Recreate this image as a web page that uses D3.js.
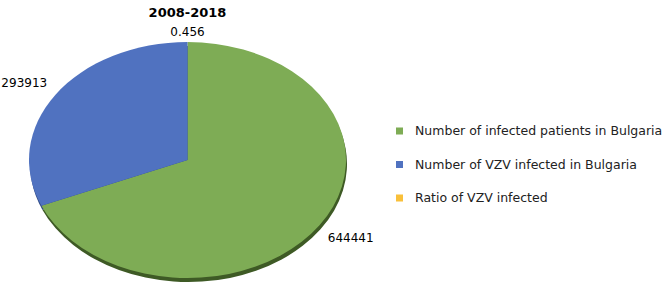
<!DOCTYPE html>
<html>
<head>
<meta charset="utf-8">
<script src="https://cdn.jsdelivr.net/npm/d3@7"></script>
<style>
  body { margin: 0; background: #fff; }
  svg { display: block; font-family: "DejaVu Sans", Verdana, sans-serif; }
</style>
</head>
<body>
<script>
const title = "2008-2018"
const categories = ["Number of infected patients in Bulgaria", "Number of VZV infected in Bulgaria", "Ratio of VZV infected"]
const values = [644441, 293913, 0.456]
const labels = ["644441", "293913", "0.456"]
const colors = ["#7eac55", "#5072c0", "#f9c03a"]
const sideColors = ["#3e5a25", "#2c4680", "#9c7510"]

const width = 664, height = 292
const cx = 187.5, cy = 160
const rx = 158.5, ry = 118
const depth = 4
const gap = 10

const svg = d3.select("body").append("svg")
    .attr("width", width)
    .attr("height", height)

const pie = d3.pie().sort(null).value(d => d)
const arcs = pie(values)
const arc = d3.arc().innerRadius(0).outerRadius(rx)

// side / thickness of the tilted pie
svg.append("g")
    .attr("transform", `translate(${cx + 1},${cy + depth}) scale(1,${ry / rx})`)
    .selectAll("path")
    .data(arcs)
    .join("path")
    .attr("d", arc)
    .attr("fill", (d, i) => sideColors[i])

// top face
svg.append("g")
    .attr("transform", `translate(${cx},${cy}) scale(1,${ry / rx})`)
    .selectAll("path")
    .data(arcs)
    .join("path")
    .attr("d", arc)
    .attr("fill", (d, i) => colors[i])

// data labels outside the pie
const mid = d => (d.startAngle + d.endAngle) / 2
svg.append("g")
    .style("font-size", "12px")
    .attr("fill", "#000")
    .selectAll("text")
    .data(arcs)
    .join("text")
    .attr("x", d => cx + (rx + gap) * Math.sin(mid(d)))
    .attr("y", d => cy - (ry + gap + 14 * Math.abs(Math.sin(mid(d)))) * Math.cos(mid(d)))
    .attr("dy", "0.35em")
    .attr("text-anchor", d => {
        const s = Math.sin(mid(d))
        return Math.abs(s) < 0.05 ? "middle" : (s > 0 ? "start" : "end")
    })
    .text((d, i) => labels[i])

svg.append("text")
    .attr("x", cx)
    .attr("y", 17)
    .attr("text-anchor", "middle")
    .style("font-size", "13px")
    .style("font-weight", "bold")
    .text(title)

// legend
const legendY = d3.scalePoint().domain(categories).range([131, 198])
const legend = svg.append("g")
    .selectAll("g")
    .data(categories)
    .join("g")
    .attr("transform", d => `translate(396,${legendY(d)})`)

legend.append("rect")
    .attr("x", 0)
    .attr("y", -3.5)
    .attr("width", 7)
    .attr("height", 7)
    .attr("fill", (d, i) => colors[i])

legend.append("text")
    .attr("x", 19)
    .attr("dy", "0.35em")
    .style("font-size", "12.5px")
    .attr("fill", "#222")
    .text(d => d)
</script>
</body>
</html>
